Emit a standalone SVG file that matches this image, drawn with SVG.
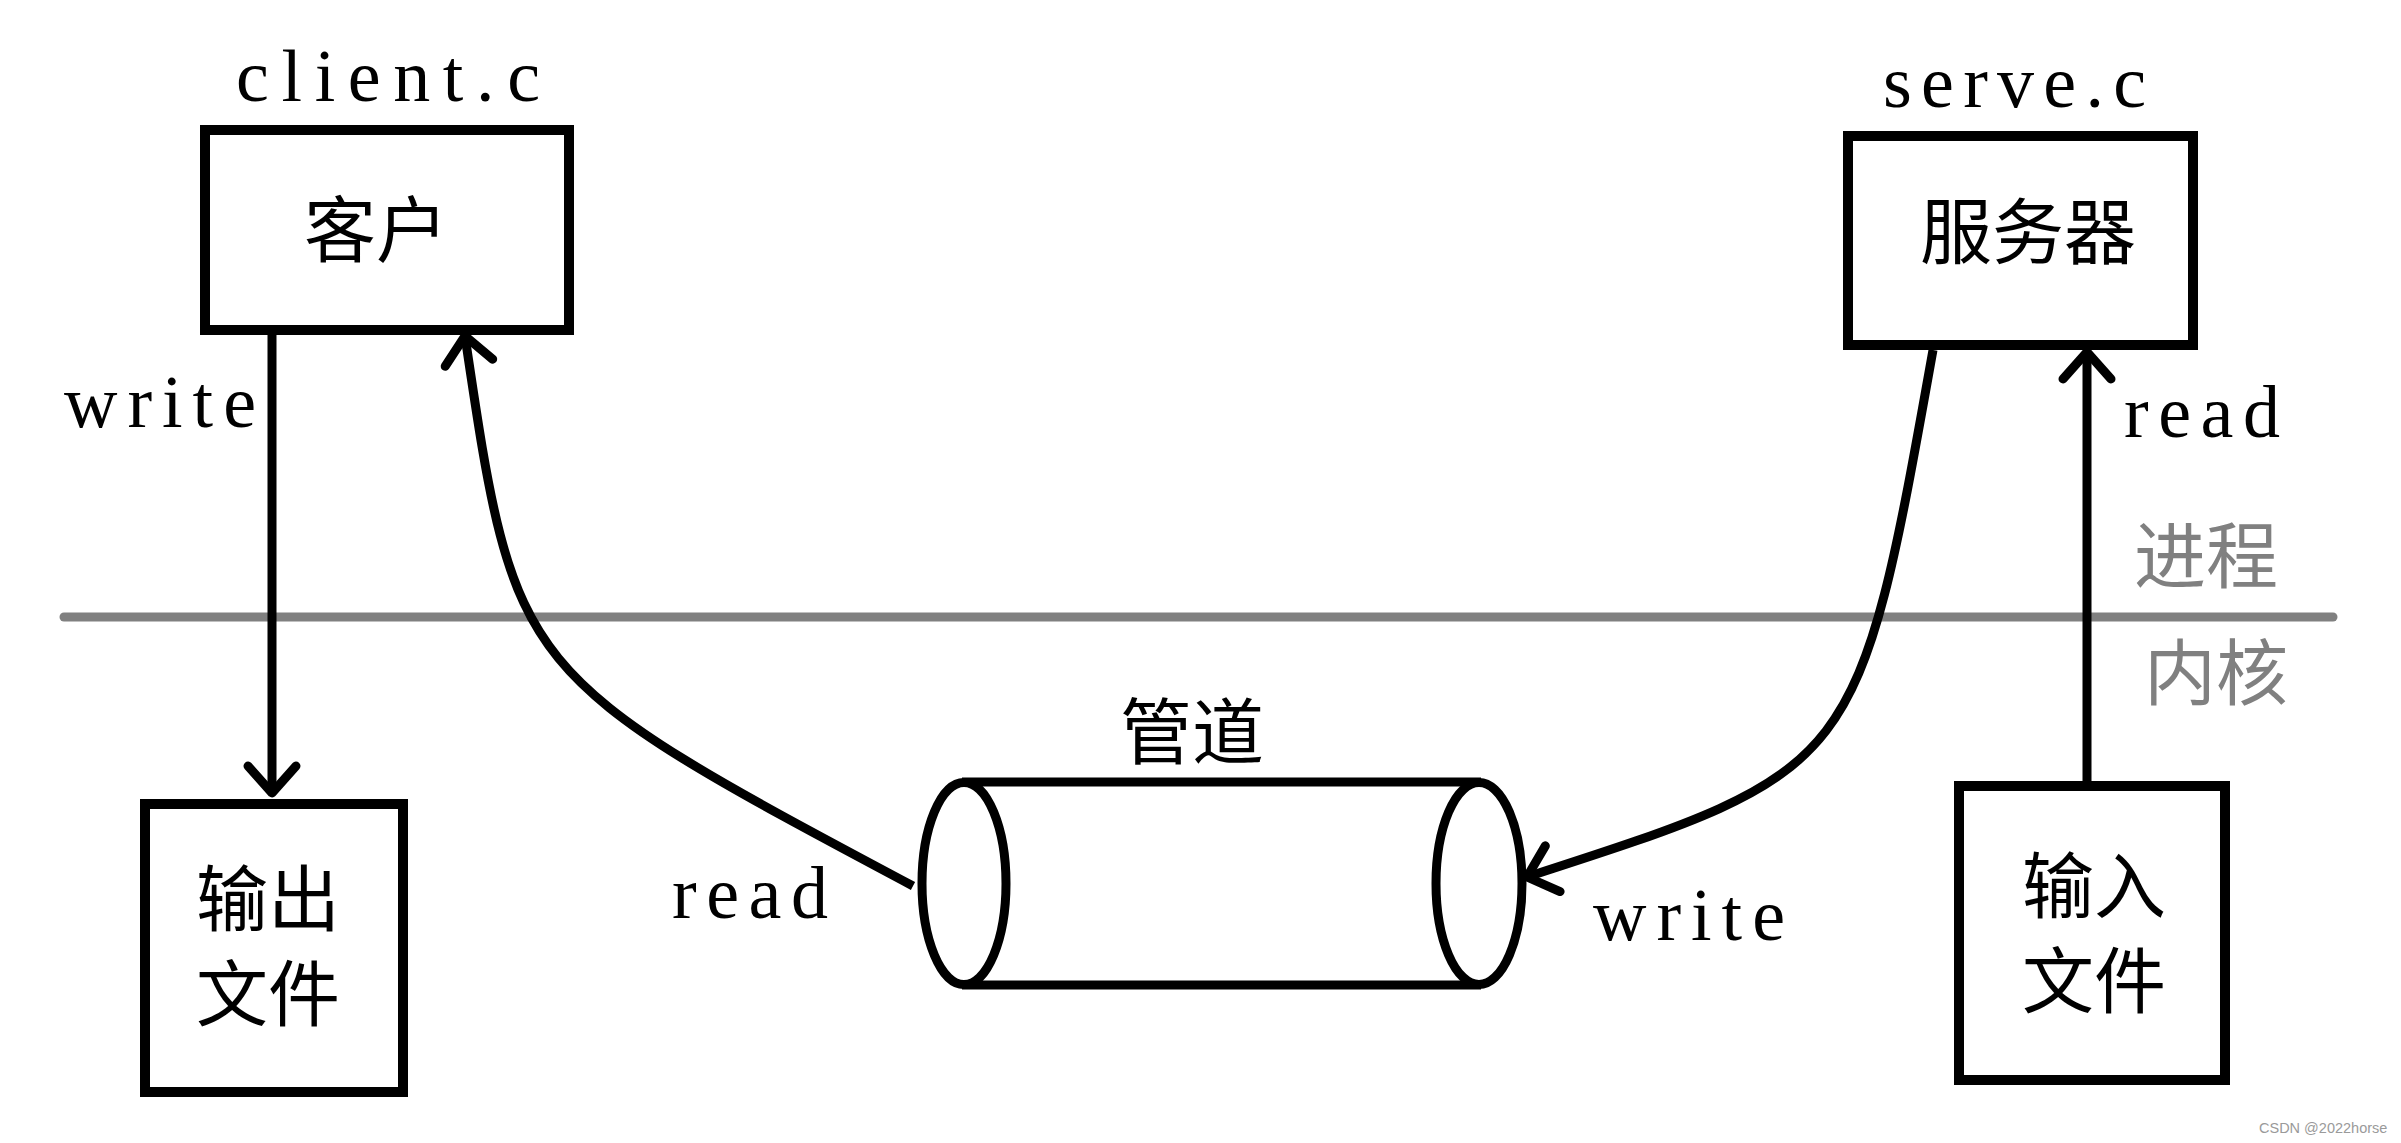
<svg xmlns="http://www.w3.org/2000/svg" width="2401" height="1143" viewBox="0 0 2401 1143">
  <style>
    .box { fill: #ffffff; stroke: #000000; stroke-width: 10; }
    .pipe { fill: none; stroke: #000000; stroke-width: 9; }
    .conn { fill: none; stroke: #000000; stroke-width: 9; }
    .lat { font-family: "Liberation Serif", "DejaVu Serif", serif; font-size: 74px; fill: #000000; }
    .cjk { font-family: "Noto Sans CJK SC", "Noto Sans", sans-serif; font-size: 72px; fill: #000000; text-anchor: middle; }
    .gray { fill: #808080; }
    .wm { font-family: "Liberation Sans", Arial, sans-serif; font-size: 14.5px; fill: #9a9a9a; }
  </style>
  <defs>
    <marker id="arrow" markerUnits="userSpaceOnUse" orient="auto" refX="0" refY="0" markerWidth="80" markerHeight="80" overflow="visible">
      <path d="M-27,-24 L0,0 L-27,24" fill="none" stroke="#000000" stroke-width="9" stroke-linecap="round" stroke-linejoin="round"/>
    </marker>
  </defs>
  <rect width="2401" height="1143" fill="#ffffff"/>

  <!-- process / kernel divider -->
  <g id="divider">
    <line x1="64" y1="617" x2="2333" y2="617" stroke="#808080" stroke-width="9" stroke-linecap="round"/>
    <text class="cjk gray" x="2206" y="582">进程</text>
    <text class="cjk gray" x="2216" y="699">内核</text>
  </g>

  <g id="connectors">
    <line class="conn" x1="272" y1="335" x2="272" y2="793" marker-end="url(#arrow)"/>
    <path class="conn" d="M913,886 C515,674 515,674 465,336" marker-end="url(#arrow)"/>
    <path class="conn" d="M1933,350 C1858,770 1858,770 1527,877" marker-end="url(#arrow)"/>
    <line class="conn" x1="2087" y1="781" x2="2087" y2="352" marker-end="url(#arrow)"/>
    <text class="lat" x="64" y="427" textLength="192" lengthAdjust="spacing">write</text>
    <text class="lat" x="672" y="918" textLength="156" lengthAdjust="spacing">read</text>
    <text class="lat" x="1593" y="940" textLength="192" lengthAdjust="spacing">write</text>
    <text class="lat" x="2124" y="437" textLength="156" lengthAdjust="spacing">read</text>
  </g>

  <g id="client">
    <text class="lat" x="236" y="101" textLength="304" lengthAdjust="spacing">client.c</text>
    <rect class="box" x="205" y="130" width="364" height="200"/>
    <text class="cjk" x="376" y="256">客户</text>
  </g>

  <g id="server">
    <text class="lat" x="1883" y="107" textLength="263" lengthAdjust="spacing">serve.c</text>
    <rect class="box" x="1848" y="136" width="345" height="209"/>
    <text class="cjk" x="2028" y="258">服务器</text>
  </g>

  <g id="output-file">
    <rect class="box" x="145" y="804" width="258" height="288"/>
    <text class="cjk" x="268" y="925">输出</text>
    <text class="cjk" x="268" y="1020">文件</text>
  </g>

  <g id="input-file">
    <rect class="box" x="1959" y="786" width="266" height="294"/>
    <text class="cjk" x="2094" y="912">输入</text>
    <text class="cjk" x="2094" y="1007">文件</text>
  </g>

  <g id="pipe">
    <text class="cjk" x="1192" y="758">管道</text>
    <line class="pipe" x1="962" y1="782" x2="1481" y2="782"/>
    <line class="pipe" x1="962" y1="985" x2="1481" y2="985"/>
    <ellipse class="pipe" cx="964" cy="883.5" rx="42" ry="101"/>
    <ellipse class="pipe" cx="1479" cy="883.5" rx="43" ry="101"/>
  </g>

  <text class="wm" x="2259" y="1133">CSDN @2022horse</text>
</svg>
